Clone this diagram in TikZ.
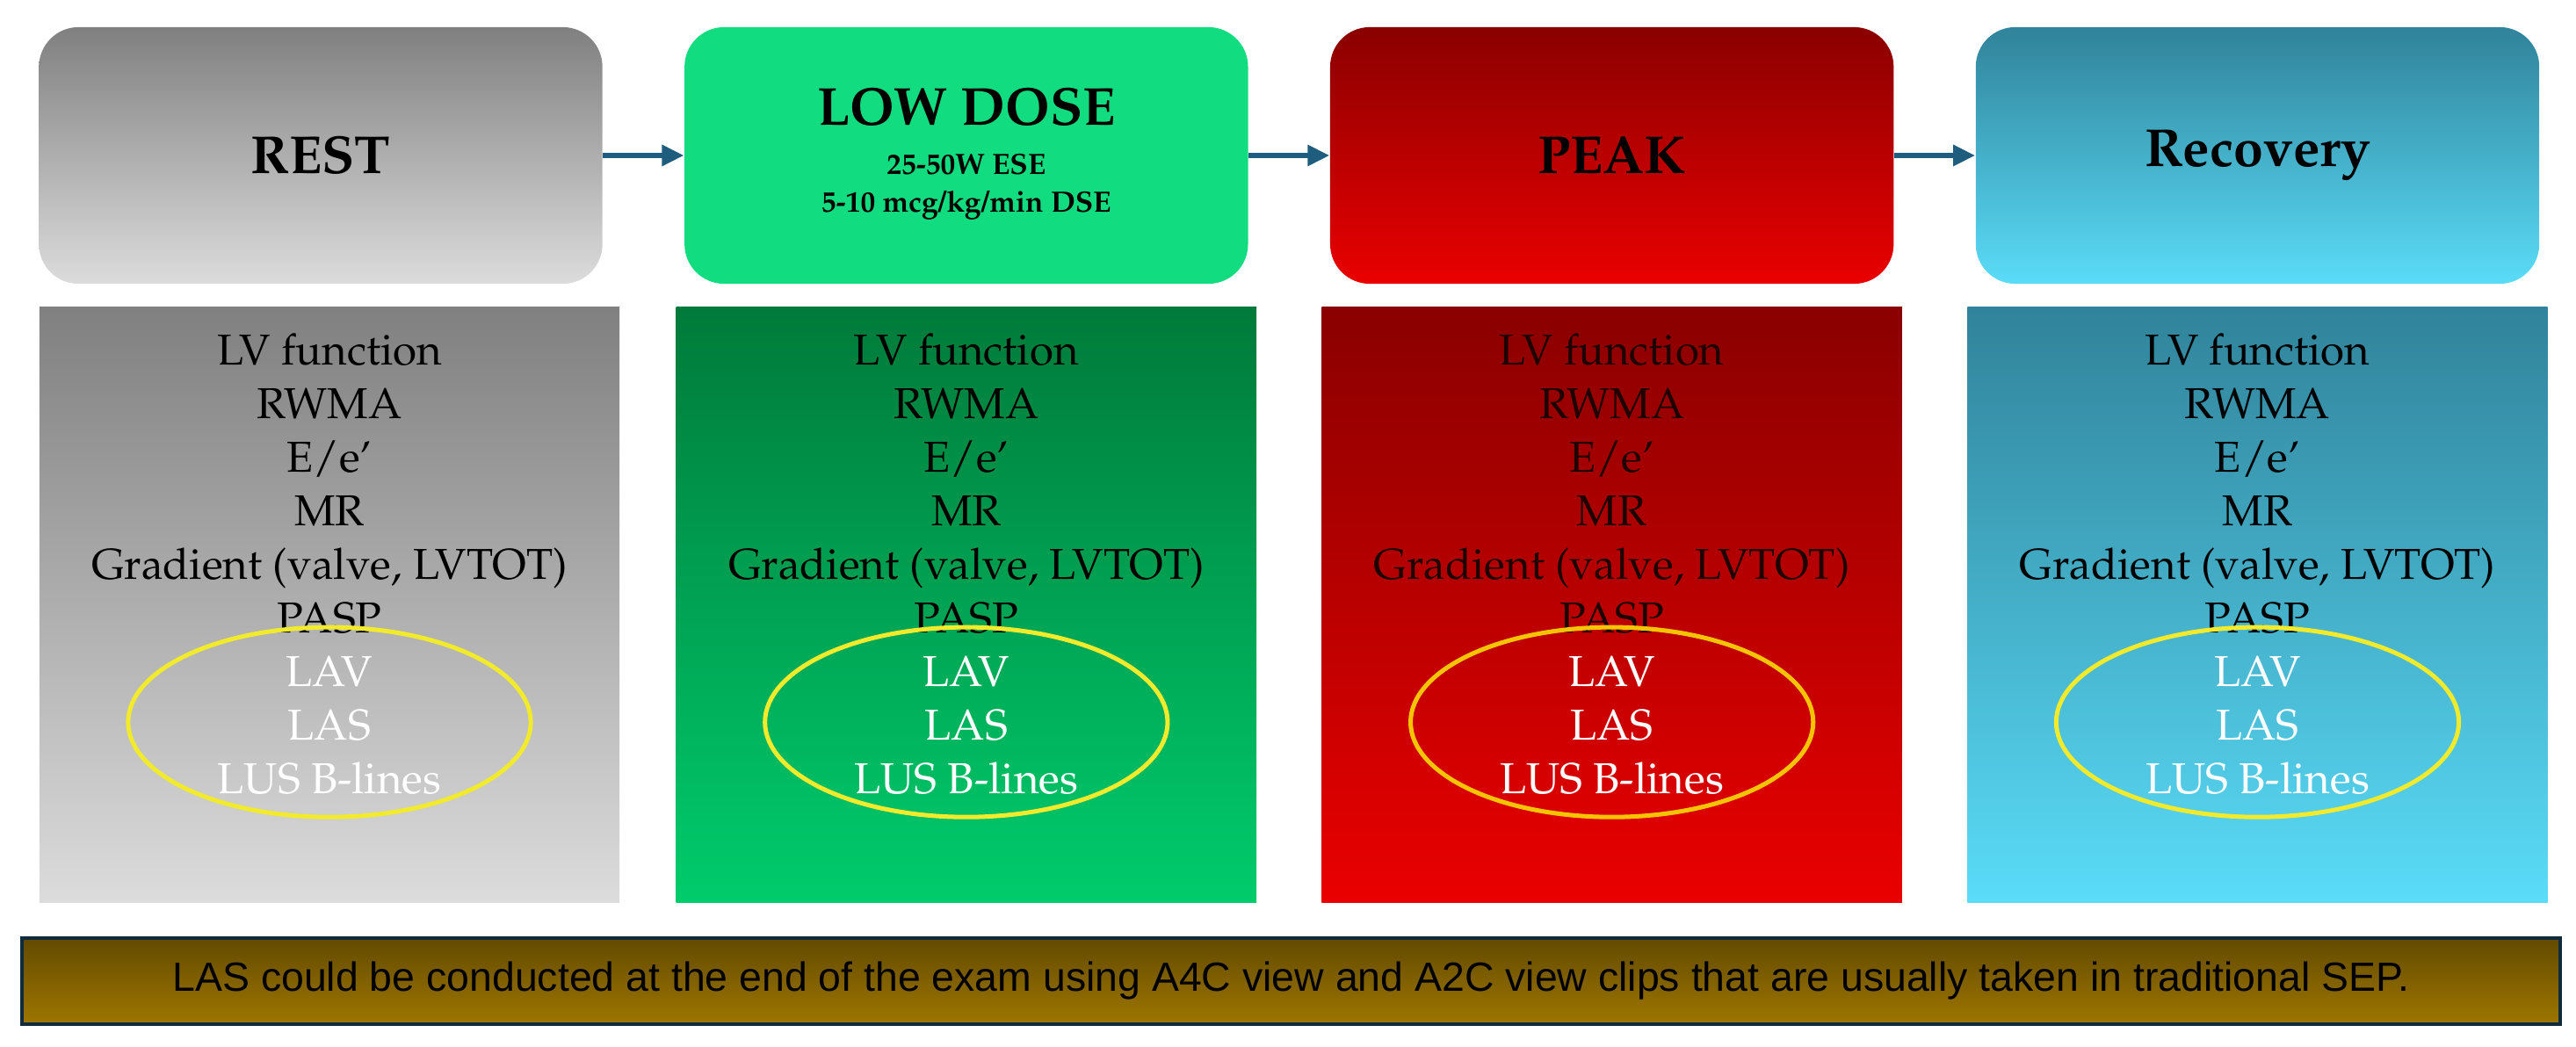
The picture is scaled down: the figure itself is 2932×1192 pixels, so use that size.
\documentclass[tikz,border=0pt]{standalone}
\usepackage[T1,TU]{fontenc}
\usepackage{fontspec}
\usetikzlibrary{arrows.meta,positioning,shapes.geometric}

\newfontfamily\notefont{Liberation Sans}
\newcommand{\palfont}{\fontencoding{T1}\fontfamily{ppl}\selectfont}
\newcommand{\titlefont}{\palfont\bfseries\fontsize{17.3}{20}\selectfont}
\newcommand{\subfont}{\palfont\bfseries\fontsize{9.5}{12}\selectfont}
\newcommand{\listfont}{\palfont\fontsize{14}{17.36}\selectfont}
\newcommand{\hl}[1]{\textcolor{white}{#1}}
\newcommand{\measures}{LV function\\RWMA\\E/e\textquoteright\\MR\\Gradient (valve, LVTOT)\\PASP\\
  \hl{LAV}\\\hl{LAS}\\\hl{LUS B-lines}}

\definecolor{restA}{HTML}{808080}
\definecolor{restB}{HTML}{DCDCDC}
\definecolor{lowtop}{HTML}{12DC80}
\definecolor{lowA}{HTML}{007A3A}
\definecolor{lowB}{HTML}{00CC6C}
\definecolor{peakA}{HTML}{8A0000}
\definecolor{peakB}{HTML}{EA0000}
\definecolor{peaktext}{HTML}{1E0000}
\definecolor{recA}{HTML}{30839A}
\definecolor{recB}{HTML}{5ADCF8}
\definecolor{flowblue}{HTML}{1E5D7E}
\definecolor{ringyellow}{HTML}{F2EA2C}
\definecolor{ringgold}{HTML}{F5C400}
\definecolor{barA}{HTML}{634A00}
\definecolor{barB}{HTML}{9E7600}
\definecolor{barnavy}{HTML}{0F2B3D}

\begin{document}
\begin{tikzpicture}[x=0.01cm, y=-0.01cm,
  node distance=2.5mm and 9.2mm,
  stage/.style={rounded corners=4.5mm, minimum width=6.41cm, minimum height=2.92cm,
                inner sep=0pt, align=center, font=\titlefont},
  panel/.style={minimum width=6.6cm, minimum height=6.78cm, inner sep=0pt},
  items/.style={align=center, font=\listfont, inner sep=0pt},
  ring/.style={ellipse, draw=ringyellow, line width=0.5mm, minimum width=4.58cm,
               minimum height=2.16cm},
  flow/.style={draw=flowblue, line width=0.6mm, -{Triangle[length=2.5mm, width=2.3mm]}}]
  \useasboundingbox (0,0) rectangle (2932,1192);

  % stages
  \node[stage, top color=restA, bottom color=restB] (rest) at (365,177) {REST};
  \node[stage, fill=lowtop, right=of rest] (low) {LOW DOSE\\[-4pt]
    {\subfont\begin{tabular}[t]{@{}c@{}}25-50W ESE\\5-10 mcg/kg/min DSE\end{tabular}}};
  \node[stage, top color=peakA, bottom color=peakB, right=of low] (peak) {PEAK};
  \node[stage, top color=recA, bottom color=recB, right=of peak] (recov) {Recovery};
  \draw[flow] (rest) -- (low);
  \draw[flow] (low) -- (peak);
  \draw[flow] (peak) -- (recov);

  % measurement panels
  \node[panel, top color=restA, bottom color=restB, below=of rest, xshift=1mm] (restpanel) {};
  \node[panel, top color=lowA, bottom color=lowB, below=of low] (lowpanel) {};
  \node[panel, top color=peakA, bottom color=peakB, below=of peak] (peakpanel) {};
  \node[panel, top color=recA, bottom color=recB, below=of recov] (recpanel) {};

  \node[items, below=3mm of restpanel.north] (restlist) {\measures};
  \node[items, below=3mm of lowpanel.north] (lowlist) {\measures};
  \node[items, text=peaktext, below=3mm of peakpanel.north] (peaklist) {\measures};
  \node[items, below=3mm of recpanel.north] (reclist) {\measures};

  \node[ring] (restring) at ([yshift=-1.8cm]restlist.center) {};
  \node[ring] (lowring) at ([yshift=-1.8cm]lowlist.center) {};
  \node[ring, draw=ringgold] (peakring) at ([yshift=-1.8cm]peaklist.center) {};
  \node[ring] (recring) at ([yshift=-1.8cm]reclist.center) {};

  % note bar
  \node[draw=barnavy, line width=0.4mm, top color=barA, bottom color=barB,
        minimum width=28.87cm, minimum height=0.98cm, inner sep=0pt,
        font=\notefont\fontsize{13.2}{15}\selectfont] (note) at (1469.5,1117)
    {LAS could be conducted at the end of the exam using A4C view and A2C view clips that are usually taken in traditional SEP.};
\end{tikzpicture}
\end{document}
